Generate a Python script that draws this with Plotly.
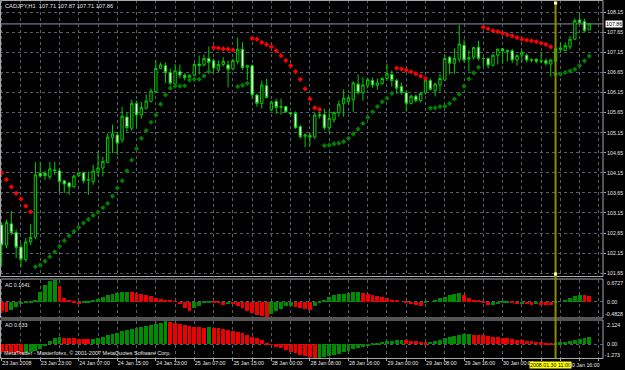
import plotly.graph_objects as go

W, H = 625, 370

# ---------------- data (CADJPY H1, bar 0 = 23 Jan 2008 15:00) ----------------
opens = [102.85, 102.35, 102.88, 102.66, 102.30, 101.99, 102.43, 102.55, 104.14, 104.14,
         104.05, 104.20, 104.20, 103.95, 103.90, 103.80, 104.08, 104.15, 103.97, 103.93,
         104.18, 104.27, 104.41, 105.03, 105.09, 104.97, 105.54, 105.26, 105.88, 105.59,
         105.76, 105.93, 106.17, 106.75, 106.82, 106.65, 106.36, 106.67, 106.58, 106.52,
         106.58, 106.86, 106.84, 107.00, 106.94, 106.71, 106.85, 106.84, 106.74, 106.92,
         107.23, 106.78, 106.82, 106.09, 105.88, 106.32, 105.72, 105.93, 105.80, 105.80,
         105.65, 105.63, 105.30, 105.06, 105.08, 105.04, 105.60, 105.60, 105.27, 105.47,
         105.65, 105.88, 105.93, 105.97, 106.36, 106.14, 106.32, 106.45, 106.33, 106.37,
         106.50, 106.60, 106.45, 106.30, 106.14, 105.88, 106.06, 105.95, 106.14, 106.45,
         106.20, 106.34, 106.46, 107.03, 106.88, 106.98, 107.33, 106.98, 107.03, 107.28,
         107.00, 107.00, 106.83, 107.08, 107.24, 107.17, 107.19, 106.96, 107.08, 107.08,
         106.97, 106.98, 106.93, 106.94, 106.86, 106.93, 107.22, 107.20, 107.29, 107.48,
         107.96, 107.92, 107.71]
highs = [102.92, 102.98, 103.20, 102.74, 102.40, 102.53, 102.88, 104.42, 104.42, 104.20,
         104.42, 104.42, 104.27, 103.97, 103.92, 104.10, 104.17, 104.18, 104.18, 104.35,
         104.66, 104.55, 105.13, 105.35, 105.17, 105.79, 105.66, 105.97, 105.95, 105.92,
         106.10, 106.25, 106.96, 106.90, 106.90, 106.75, 106.86, 106.85, 106.63, 106.60,
         106.90, 107.07, 107.10, 107.30, 107.00, 106.95, 107.03, 106.95, 107.00, 107.52,
         107.40, 106.84, 106.85, 106.12, 106.45, 106.50, 105.95, 106.00, 106.00, 105.82,
         105.67, 105.68, 105.35, 105.13, 105.15, 105.64, 105.66, 105.75, 105.72, 105.68,
         105.96, 106.23, 106.10, 106.43, 106.60, 106.53, 106.52, 106.52, 106.50, 106.53,
         106.87, 106.70, 106.50, 106.40, 106.20, 106.10, 106.10, 106.15, 106.50, 106.50,
         106.40, 106.62, 107.10, 107.06, 107.25, 107.84, 107.47, 107.20, 107.30, 107.44,
         107.03, 107.02, 107.12, 107.25, 107.26, 107.22, 107.24, 107.10, 107.22, 107.12,
         107.00, 107.00, 107.15, 107.00, 106.99, 107.30, 107.40, 107.40, 107.56, 108.00,
         108.10, 107.99, 107.87]
lows = [101.84, 102.27, 102.60, 102.03, 101.80, 101.93, 102.35, 102.50, 104.02, 103.97,
        103.98, 104.10, 103.67, 103.65, 103.60, 103.78, 104.05, 103.89, 103.60, 103.85,
        104.06, 104.06, 104.39, 104.64, 104.60, 104.90, 105.15, 105.20, 105.28, 105.50,
        105.73, 105.90, 106.14, 106.74, 106.38, 106.33, 106.35, 106.50, 106.45, 106.49,
        106.55, 106.60, 106.80, 106.70, 106.66, 106.66, 106.80, 106.28, 106.70, 106.85,
        106.72, 106.46, 106.00, 105.80, 105.75, 106.00, 105.68, 105.62, 105.60, 105.64,
        105.60, 105.25, 105.00, 104.79, 104.83, 105.00, 105.50, 105.22, 105.15, 105.40,
        105.55, 105.55, 105.85, 105.67, 106.10, 105.95, 106.25, 106.27, 106.22, 106.35,
        106.45, 106.30, 106.12, 106.10, 105.68, 105.85, 105.90, 105.90, 106.10, 106.20,
        106.05, 106.17, 106.44, 106.60, 106.62, 106.90, 106.90, 106.68, 106.97, 106.95,
        106.80, 106.75, 106.80, 106.85, 106.87, 106.92, 106.88, 106.82, 106.90, 106.90,
        106.90, 106.88, 106.88, 106.82, 106.55, 106.60, 107.15, 107.18, 107.22, 107.46,
        107.88, 107.66, 107.71]
closes = [102.35, 102.91, 102.66, 102.29, 101.99, 102.43, 102.54, 104.10, 104.07, 104.08,
          104.25, 104.22, 103.93, 103.87, 103.80, 104.07, 104.15, 103.95, 103.98, 104.20,
          104.27, 104.43, 105.04, 105.12, 104.89, 105.56, 105.28, 105.88, 105.59, 105.78,
          105.94, 106.19, 106.75, 106.84, 106.65, 106.38, 106.69, 106.59, 106.52, 106.58,
          106.85, 106.82, 107.00, 106.90, 106.76, 106.85, 106.93, 106.73, 106.95, 107.23,
          106.77, 106.82, 106.09, 105.88, 106.34, 106.03, 105.91, 105.78, 105.79, 105.67,
          105.62, 105.27, 105.05, 105.10, 105.04, 105.59, 105.57, 105.27, 105.51, 105.65,
          105.86, 106.01, 106.02, 106.39, 106.15, 106.34, 106.47, 106.34, 106.39, 106.50,
          106.62, 106.45, 106.26, 106.15, 105.88, 106.06, 105.95, 106.13, 106.46, 106.23,
          106.36, 106.50, 107.00, 106.88, 107.00, 107.36, 106.96, 107.02, 107.27, 107.00,
          107.00, 106.83, 107.08, 107.23, 107.19, 107.20, 106.96, 107.07, 107.15, 106.96,
          106.96, 106.93, 106.94, 106.88, 106.96, 107.25, 107.26, 107.32, 107.48, 107.94,
          107.89, 107.69, 107.86]

N = None
# Parabolic SAR: below price (green) / above price (red)
sar_below = ([N] * 7 +
             [101.81, 101.85, 101.95, 102.06, 102.18, 102.32, 102.46, 102.58, 102.69, 102.79,
              102.90, 102.99, 103.09, 103.17, 103.28, 103.39, 103.57, 103.77, 103.95, 104.20,
              104.47, 104.75, 105.01, 105.20, 105.41, 105.59, 105.86, 106.09, 106.26, 106.31,
              106.31, 106.32, 106.46, 106.48, 106.48, 106.56, 106.67] +
             [N] * 5 + [106.30, 106.33, 106.38] + [N] * 15 +
             [104.83, 104.84, 104.87, 104.89, 104.93, 105.01, 105.12, 105.24, 105.38, 105.53,
              105.67, 105.80, 105.92, 106.01, 106.13] +
             [N] * 7 +
             [105.76, 105.77, 105.80, 105.81, 105.88, 105.99, 106.11, 106.31, 106.49, 106.64,
              106.78] +
             [N] * 15 +
             [106.61, 106.61, 106.65, 106.69, 106.73, 106.82, 106.94, 107.06])
sar_above = ([104.15, 103.98, 103.80, 103.64, 103.50, 103.32, 103.18] + [N] * 37 +
             [107.27, 107.26, 107.24, 107.23, 107.21] + [N] * 3 +
             [107.50, 107.48, 107.40, 107.35, 107.29, 107.19, 107.07, 106.95, 106.82, 106.67,
              106.48, 106.24, 105.99, 105.77, 105.73] + [N] * 15 +
             [106.76, 106.74, 106.71, 106.67, 106.62, 106.56, 106.50] + [N] * 11 +
             [107.78, 107.74, 107.69, 107.67, 107.63, 107.59, 107.56, 107.52, 107.48, 107.46,
              107.44, 107.42, 107.38, 107.35, 107.29] + [N] * 8)

# Accelerator/Decelerator (AC) and Awesome Oscillator (AO)
ac = [-0.30, -0.33, -0.25, -0.16, -0.09, -0.05, -0.02, 0.02, 0.29, 0.52,
      0.63, 0.6727, 0.48, 0.10, 0.02, -0.04, -0.09, -0.06, -0.03, 0.02,
      0.07, 0.13, 0.19, 0.24, 0.27, 0.29, 0.30, 0.29, 0.27, 0.24,
      0.21, 0.17, 0.12, 0.08, 0.05, 0.03, 0.01, -0.09, -0.20, -0.30,
      -0.20, -0.13, -0.06, -0.02, -0.03, -0.06, -0.10, -0.07, -0.09, -0.13,
      -0.20, -0.28, -0.35, -0.41, -0.46, -0.4828, -0.38, -0.30, -0.22, -0.14,
      -0.13, -0.16, -0.19, -0.22, -0.25, -0.14, -0.05, 0.05, 0.14, 0.20,
      0.23, 0.25, 0.27, 0.29, 0.30, 0.28, 0.25, 0.22, 0.18, 0.14,
      0.10, 0.06, 0.03, 0.00, -0.04, -0.08, -0.11, -0.13, -0.06, 0.00,
      0.05, 0.10, 0.15, 0.19, 0.23, 0.27, 0.20, 0.12, 0.06, 0.03,
      -0.04, -0.12, -0.10, -0.08, -0.06, -0.04, -0.06, -0.08, -0.07, -0.09,
      -0.10, -0.08, -0.10, -0.11, -0.12, -0.03, 0.00, 0.04, 0.10, 0.16,
      0.22, 0.20, 0.1641]
ao = [-0.70, -0.76, -0.81, -0.85, -0.87, -0.83, -0.74, -0.60, -0.42, -0.18,
      0.28, 0.52, 0.67, 0.60, 0.56, 0.53, 0.50, 0.48, 0.47, 0.50,
      0.58, 0.68, 0.80, 0.93, 1.06, 1.18, 1.30, 1.41, 1.51, 1.61,
      1.70, 1.79, 1.88, 1.98, 2.124, 2.07, 1.98, 1.88, 1.78, 1.68,
      1.60, 1.55, 1.52, 1.54, 1.50, 1.44, 1.37, 1.29, 1.20, 1.10,
      0.98, 0.85, 0.70, 0.53, 0.35, 0.15, -0.05, -0.22, -0.38, -0.53,
      -0.68, -0.82, -0.96, -1.08, -1.19, -1.273, -1.24, -1.18, -1.10, -1.00,
      -0.88, -0.75, -0.62, -0.48, -0.35, -0.22, -0.10, 0.02, 0.12, 0.20,
      0.27, 0.32, 0.35, 0.37, 0.35, 0.30, 0.25, 0.21, 0.18, 0.22,
      0.30, 0.40, 0.52, 0.63, 0.74, 0.83, 0.89, 0.92, 0.88, 0.84,
      0.80, 0.75, 0.70, 0.64, 0.58, 0.52, 0.47, 0.42, 0.37, 0.32,
      0.27, 0.22, 0.17, 0.13, 0.09, 0.12, 0.17, 0.23, 0.30, 0.38,
      0.47, 0.56, 0.633]

time_tick_bars = [0, 8, 16, 24, 32, 40, 48, 56, 64, 72, 80, 88, 96, 104]
time_tick_text = ["23 Jan 2008", "23 Jan 23:00", "24 Jan 07:00", "24 Jan 15:00",
                  "24 Jan 23:00", "25 Jan 07:00", "25 Jan 15:00", "28 Jan 00:00",
                  "28 Jan 08:00", "28 Jan 16:00", "29 Jan 00:00", "29 Jan 08:00",
                  "29 Jan 16:00", "30 Jan 00:00"]
last_time_label = "30 Jan 16:00"
cursor_bar = 115
cursor_label = "2008.01.30 11:00"

price_ticks = [101.65, 102.15, 102.65, 103.15, 103.65, 104.15, 104.65, 105.15,
               105.65, 106.15, 106.65, 107.15, 107.65, 108.15]
ac_max, ac_min = 0.6727, -0.4828
ao_max, ao_min = 2.124, -1.273
symbol_title = "CADJPY,H1  107.71 107.87 107.71 107.86"
ac_title = "AC 0.1641"
ao_title = "AO 0.633"
copyright_text = "MetaTrader - Masterforex, © 2001-2007 MetaQuotes Software Corp."

# ---------------- styling ----------------
FONT = "Liberation Sans, Arial, sans-serif"
FS = 5.3
TXT = "#e6e6e6"
GRID = "#56606a"
BORDER = "#a8a8a8"
CANDLE = "#00cc00"
UPC, DNC = "#008c00", "#ee0000"

def px(xp):
    return xp / W

def py(yp):
    return 1 - yp / H

X_END = px(603)
xs = list(range(len(closes)))
grid_bars = list(range(0, len(closes) + 3, 4))

fig = go.Figure()
fig.add_trace(go.Candlestick(
    x=xs, open=opens, high=highs, low=lows, close=closes,
    increasing=dict(line=dict(color=CANDLE, width=1), fillcolor="#000000"),
    decreasing=dict(line=dict(color=CANDLE, width=1), fillcolor="#ffffff"),
    whiskerwidth=0, hoverinfo="skip", xaxis="x", yaxis="y", showlegend=False))
fig.add_trace(go.Scatter(x=xs, y=sar_below, mode="markers",
                         marker=dict(symbol="diamond", size=4, color="#008000"),
                         xaxis="x", yaxis="y", showlegend=False, hoverinfo="skip"))
fig.add_trace(go.Scatter(x=xs, y=sar_above, mode="markers",
                         marker=dict(symbol="diamond", size=4, color="#ff0000"),
                         xaxis="x", yaxis="y", showlegend=False, hoverinfo="skip"))

def hist_colors(vals):
    cols = [DNC]
    for i in range(1, len(vals)):
        cols.append(UPC if vals[i] > vals[i - 1] else DNC)
    return cols

fig.add_trace(go.Bar(x=xs, y=ac, marker=dict(color=hist_colors(ac), line=dict(width=0)),
                     width=0.8, xaxis="x2", yaxis="y2", showlegend=False, hoverinfo="skip"))
fig.add_trace(go.Bar(x=xs, y=ao, marker=dict(color=hist_colors(ao), line=dict(width=0)),
                     width=0.8, xaxis="x3", yaxis="y3", showlegend=False, hoverinfo="skip"))

x_range = [-0.353, 124.85]
xcommon = dict(domain=[0, X_END], range=x_range, showgrid=True, gridcolor=GRID,
               griddash="dot", gridwidth=1, zeroline=False, showline=False,
               tickvals=grid_bars, fixedrange=True, automargin=False, tickangle=0)
tt = []
for b in grid_bars:
    tt.append(time_tick_text[time_tick_bars.index(b)] if b in time_tick_bars else "")

ycommon = dict(side="right", showline=False, zeroline=False, fixedrange=True, automargin=False,
               tickfont=dict(family=FONT, size=FS, color=TXT))

fig.update_layout(
    width=W, height=H, margin=dict(l=0, r=0, t=0, b=0, autoexpand=False),
    paper_bgcolor="#000000", plot_bgcolor="#000000",
    bargap=0, showlegend=False,
    xaxis=dict(**xcommon, anchor="y", showticklabels=False, rangeslider=dict(visible=False)),
    xaxis2=dict(**xcommon, anchor="y2", matches="x", showticklabels=False),
    xaxis3=dict(**xcommon, anchor="y3", matches="x", ticktext=tt, showticklabels=True,
                ticklabelposition="outside right", ticks="outside", ticklen=2,
                tickcolor=BORDER, tickfont=dict(family=FONT, size=FS, color=TXT)),
    yaxis=dict(**ycommon, domain=[py(276), py(0)], range=[101.58, 108.456], anchor="x",
               tickvals=price_ticks, ticktext=["%.2f" % v for v in price_ticks],
               showgrid=True, gridcolor=GRID, griddash="dot",
               ticks="outside", ticklen=2, tickcolor=BORDER),
    yaxis2=dict(**ycommon, domain=[py(317), py(280)], range=[ac_min, ac_max], anchor="x2",
                tickvals=[0], ticktext=[""], showgrid=True, gridcolor=GRID, griddash="dot"),
    yaxis3=dict(**ycommon, domain=[py(358), py(321)], range=[ao_min, ao_max], anchor="x3",
                tickvals=[0], ticktext=[""], showgrid=True, gridcolor=GRID, griddash="dot"),
)

shapes = []
# panel borders
for (t, b) in [(0.5, 276.5), (279, 318), (320, 358.5)]:
    shapes.append(dict(type="rect", xref="paper", yref="paper", x0=px(0.5), x1=X_END,
                       y0=py(b), y1=py(t), line=dict(color=BORDER, width=1), layer="above"))
# current bid line
shapes.append(dict(type="line", xref="paper", yref="y", x0=0, x1=X_END, y0=closes[-1],
                   y1=closes[-1], line=dict(color="#8898a8", width=1), layer="below"))
# crosshair / cursor line
shapes.append(dict(type="line", xref="x", yref="paper", x0=cursor_bar, x1=cursor_bar,
                   y0=py(358), y1=py(3), line=dict(color="#8c8c00", width=2), layer="above"))
for yy in (3, 274):
    shapes.append(dict(type="rect", xref="x", yref="paper", x0=cursor_bar - 0.33,
                       x1=cursor_bar + 0.33, y0=py(yy + 1.6), y1=py(yy - 1.6),
                       fillcolor="#ffffb0", line=dict(width=0), layer="above"))
fig.update_layout(shapes=shapes)

def note(text, x, y, xanchor="left", yanchor="middle", color=TXT, bg=None, xref="paper", yref="paper"):
    d = dict(text=text, x=x, y=y, xref=xref, yref=yref, xanchor=xanchor, yanchor=yanchor,
             showarrow=False, font=dict(family=FONT, size=FS, color=color), borderpad=0)
    if bg:
        d["bgcolor"] = bg
    return d

ann = [
    note(symbol_title, px(4), py(6), ),
    note(ac_title, px(4), py(285)),
    note(ao_title, px(4), py(325)),
    note(copyright_text, px(3), py(353)),
    note("%.2f" % closes[-1], px(605), closes[-1], color="#000000", bg="#ffffff", yref="y"),
    note("%.4f" % ac_max, px(605.5), py(283)),
    note("0.00", px(605.5), py(302)),
    note("%.4f" % ac_min, px(604), py(313.5)),
    note("%.3f" % ao_max, px(605.5), py(325)),
    note("0.00", px(605.5), py(344)),
    note("%.3f" % ao_min, px(604), py(354.5)),
    note(cursor_label, cursor_bar, py(365), xanchor="center", color="#000000", bg="#ffff00",
         xref="x3"),
    note(last_time_label, px(601), py(365), xanchor="right"),
]
ann[0]["font"]["size"] = 5.7
ann[3]["font"]["size"] = 5.5
ann[11]["xshift"] = -5
fig.update_layout(annotations=ann)

fig.write_html("out.html")
